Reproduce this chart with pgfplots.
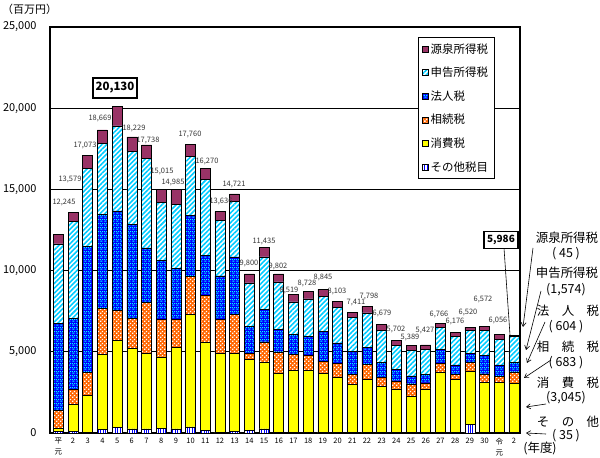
\documentclass[border=0pt]{standalone}
\usepackage{fontspec}
\setmainfont{Noto Sans CJK JP}
\usepackage{pgfplots}
\pgfplotsset{compat=1.18}
\usepackage{pgfplotstable}
\usetikzlibrary{patterns,patterns.meta,arrows.meta}

\definecolor{cWH}{RGB}{153,51,102}
\definecolor{cSELF}{RGB}{0,204,255}
\definecolor{cCORP}{RGB}{0,0,255}
\definecolor{cCORPdot}{RGB}{0,255,255}
\definecolor{cINH}{RGB}{255,102,0}
\definecolor{cCONS}{RGB}{255,255,0}
\definecolor{cOTH}{RGB}{0,0,255}
\definecolor{lbl}{RGB}{51,51,51}

\pgfdeclarepatternformonly{mychecker}{\pgfqpoint{0bp}{0bp}}{\pgfqpoint{4bp}{4bp}}{\pgfqpoint{4bp}{4bp}}{%
  \pgfpathrectangle{\pgfqpoint{0.2bp}{0.2bp}}{\pgfqpoint{1.6bp}{1.6bp}}%
  \pgfpathrectangle{\pgfqpoint{2.2bp}{2.2bp}}{\pgfqpoint{1.6bp}{1.6bp}}%
  \pgfusepath{fill}}
\pgfdeclarepatternformonly{mybrick}{\pgfqpoint{0bp}{0bp}}{\pgfqpoint{4bp}{4bp}}{\pgfqpoint{4bp}{4bp}}{%
  \pgfpathrectangle{\pgfqpoint{0.5bp}{0.5bp}}{\pgfqpoint{2.5bp}{1.1bp}}%
  \pgfpathrectangle{\pgfqpoint{2.5bp}{2.5bp}}{\pgfqpoint{1.5bp}{1.1bp}}%
  \pgfpathrectangle{\pgfqpoint{0bp}{2.5bp}}{\pgfqpoint{1bp}{1.1bp}}%
  \pgfusepath{fill}}

\pgfplotstableread{
x oth cons inh corp self wh
0 100 200 1070 5360 4910 605
1 100 1660 920 4395 5950 554
2 20 2290 1410 7750 4830 773
3 200 4650 2800 5830 4350 839
4 330 5370 1840 6140 5230 1220
5 250 4970 1820 5785 4520 884
6 250 4640 3150 3360 5515 823
7 270 4410 2330 3620 3560 825
8 250 5005 1755 3150 3910 915
9 380 6920 2350 3750 3615 745
10 150 5460 2880 2450 4660 670
11 20 4905 2085 2660 3420 546
12 80 4810 2430 3520 3435 446
13 150 4370 405 1620 2700 555
14 250 4130 1230 2020 3210 595
15 20 3640 1330 1370 2945 497
16 20 3825 985 1225 2020 444
17 20 3825 915 1170 2330 468
18 20 3640 740 1840 2185 420
19 20 3395 880 1250 2165 393
20 20 2985 595 1410 2085 316
21 20 3295 900 1075 2110 398
22 20 2845 550 940 1965 359
23 20 2700 490 715 1455 322
24 20 2270 735 490 1595 279
25 20 2700 365 515 1570 257
26 20 3740 515 880 1370 241
27 20 3270 310 590 1740 246
28 550 3275 515 550 1410 220
29 20 3090 530 1145 1555 232
30 20 3090 370 710 1560 306
31 35 3045 683 604 1574 45
}\datatable

\begin{document}
\begin{tikzpicture}
\path[use as bounding box] (0,0) rectangle (600bp,458bp);
\begin{axis}[
  at={(50bp,25bp)}, anchor=south west,
  scale only axis, width=470bp, height=406bp,
  ybar stacked, bar width=10bp,
  xmin=-0.565, xmax=31.41, ymin=0, ymax=25000,
  xtick={0,...,31},
  xticklabels={{平\\元},2,3,4,5,6,7,8,9,10,11,12,13,14,15,16,17,18,19,20,21,22,23,24,25,26,27,28,29,30,{令\\元},2},
  ytick={0,5000,10000,15000,20000,25000},
  scaled y ticks=false,
  /pgf/number format/1000 sep={,},
  /pgf/number format/assume math mode=true,
  ymajorgrids, grid style={black, line width=0.6bp},
  axis line style={line width=2.4bp},
  major tick length=0pt,
  yticklabel style={font=\fontsize{11}{12}\selectfont, xshift=-10bp},
  xticklabel style={font=\fontsize{7.5}{11}\selectfont, align=center, yshift=-1.5bp},
  legend style={at={(0.783,0.975)}, anchor=north west, draw=black, line width=0.6bp,
     fill=white, font=\fontsize{11.5}{13}\selectfont, row sep=8.5bp,
     inner xsep=4bp, inner ysep=4bp},
  legend cell align=left,
  reverse legend,
  myleg/.style={legend image code/.code={\draw[##1,line width=0.4bp] (0bp,-3bp) rectangle (6bp,3bp);}},
]
\addplot[myleg, draw=black, line width=0.6bp, fill=white,
  postaction={pattern={Lines[angle=90,distance=2.4bp,line width=1bp]}, pattern color=cOTH}]
  table[x=x,y=oth]{\datatable};
\addlegendentry{その他税目}
\addplot[myleg, draw=black, line width=0.6bp, fill=cCONS]
  table[x=x,y=cons]{\datatable};
\addlegendentry{消費税}
\addplot[myleg, draw=black, line width=0.6bp, fill=cINH,
  postaction={pattern=mychecker, pattern color=white}]
  table[x=x,y=inh]{\datatable};
\addlegendentry{相続税}
\addplot[myleg, draw=black, line width=0.6bp, fill=cCORP,
  postaction={pattern=mybrick, pattern color=cCORPdot}]
  table[x=x,y=corp]{\datatable};
\addlegendentry{法人税}
\addplot[myleg, draw=black, line width=0.6bp, fill=white,
  postaction={pattern={Lines[angle=45,distance=3.4bp,line width=1.6bp]}, pattern color=cSELF}]
  table[x=x,y=self]{\datatable};
\addlegendentry{申告所得税}
\addplot[myleg, draw=black, line width=0.6bp, fill=cWH]
  table[x=x,y=wh]{\datatable};
\addlegendentry{源泉所得税}
\end{axis}

\begin{scope}[x=1bp,y=1bp]
\node[font=\fontsize{11}{12}\selectfont, anchor=west, inner sep=0] at (2,{458-9}) {（百万円）};
\begin{scope}[every node/.style={font=\fontsize{7.5}{8}\selectfont, text=lbl, inner sep=0}]
\node at (64,{458-202}) {12,245};
\node at (70,{458-179}) {13,579};
\node at (85,{458-145}) {17,073};
\node at (100,{458-118}) {18,669};
\node at (134,{458-128}) {18,229};
\node at (148,{458-140}) {17,738};
\node at (162,{458-171}) {15,015};
\node at (173,{458-182}) {14,985};
\node at (190,{458-134}) {17,760};
\node at (207,{458-161}) {16,270};
\node at (221,{458-201}) {13,636};
\node at (234,{458-184}) {14,721};
\node at (249,{458-263}) {9,800};
\node at (264,{458-241}) {11,435};
\node at (278,{458-266}) {9,802};
\node at (289,{458-290}) {8,519};
\node at (307,{458-283}) {8,728};
\node at (323,{458-277}) {8,845};
\node at (337,{458-291}) {8,103};
\node at (356,{458-303}) {7,411};
\node at (369,{458-296}) {7,798};
\node at (382,{458-313}) {6,679};
\node at (396,{458-329}) {5,702};
\node at (410,{458-337}) {5,389};
\node at (425,{458-330}) {5,427};
\node at (439,{458-314}) {6,766};
\node at (455,{458-321}) {6,176};
\node at (468,{458-312}) {6,520};
\node at (483,{458-299}) {6,572};
\node at (498,{458-320}) {6,056};
\end{scope}
\node[draw, line width=1.6bp, fill=white, font=\bfseries\fontsize{11.5}{12}\selectfont,
  minimum width=44bp, minimum height=20bp, inner sep=1bp] at (115,{458-88}) {20,130};
\draw[line width=0.6bp] (504,{458-248}) -- (510,{458-335});
\node[draw, line width=1.6bp, fill=white, font=\bfseries\fontsize{10}{11}\selectfont,
  minimum width=34bp, minimum height=17bp, inner sep=1bp] at (501,{458-240}) {5,986};
\begin{scope}[every node/.style={font=\fontsize{12.5}{14}\selectfont, inner sep=0}]
\node at (567,{458-238}) {源泉所得税};
\node at (566,{458-254}) {(\ 45\ )};
\node at (567,{458-273}) {申告所得税};
\node at (566,{458-290}) {(1,574)};
\node at (568,{458-311}) {法　人　税};
\node at (566,{458-327}) {(\ 604\ )};
\node at (568,{458-347}) {相　続　税};
\node at (566,{458-363}) {(\ 683\ )};
\node at (568,{458-383}) {消　費　税};
\node at (566,{458-398}) {(3,045)};
\node at (568,{458-422}) {そ　の　他};
\node at (566,{458-436}) {(\ 35\ )};
\node at (540,{458-448}) {(年度)};
\end{scope}
\begin{scope}[line width=0.6bp, -{Straight Barb[length=4bp,width=5bp]}]
\draw (533,{458-248}) -- (523,{458-327});
\draw (541,{458-291}) -- (526,{458-350});
\draw (545,{458-322}) -- (527,{458-363});
\draw (551,{458-360}) -- (524,{458-378});
\draw (546,{458-404}) -- (526,{458-407});
\draw (546,{458-434}) -- (526,{458-433});
\end{scope}
\end{scope}
\end{tikzpicture}
\end{document}
